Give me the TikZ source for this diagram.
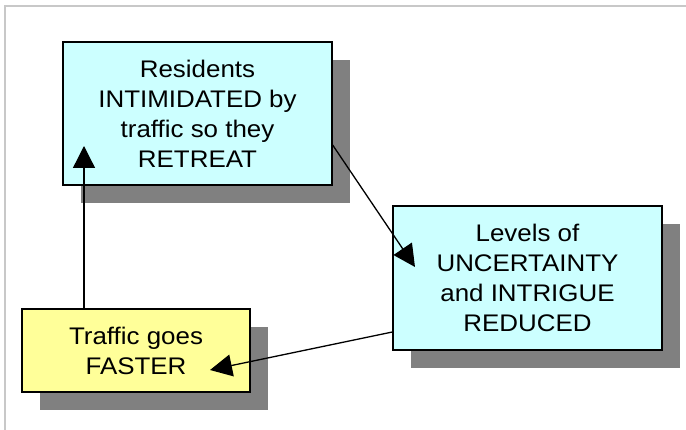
\documentclass[tikz,border=0pt]{standalone}
\usepackage{fontspec}
\setmainfont{Liberation Sans}[FakeStretch=1.08]
\usetikzlibrary{arrows.meta,shadows}
\definecolor{boxcyan}{HTML}{CCFFFF}
\definecolor{boxyellow}{HTML}{FFFF99}
\definecolor{shadowgray}{HTML}{808080}
\definecolor{framegray}{HTML}{C8C8C8}

\begin{document}
\begin{tikzpicture}[x=1pt,y=-1pt,
  box/.style={draw=black,line width=1.3pt,align=center,inner sep=0pt,
    font=\fontsize{24}{30}\selectfont,
    drop shadow={shadow xshift=18pt,shadow yshift=-18pt,fill=shadowgray,opacity=1}},
  arr/.style={-{Triangle[length=22pt,width=22pt]},line width=1.3pt,black}]
  \useasboundingbox (0,0) rectangle (686,430);
  % 枠
  \draw[framegray,line width=1.5pt] (686,6) -- (5,6) -- (5,430);

  % 箱
  \node[box,fill=boxcyan,minimum width=269pt,minimum height=143pt] (residents) at (197.5,113.5)
    {Residents\\INTIMIDATED by\\traffic so they\\RETREAT};
  \node[box,fill=boxcyan,minimum width=269pt,minimum height=144pt] (levels) at (527.5,278)
    {Levels of\\UNCERTAINTY\\and INTRIGUE\\REDUCED};
  \node[box,fill=boxyellow,minimum width=228pt,minimum height=83pt] (traffic) at (136,350.5)
    {Traffic goes\\FASTER};

  % 矢印
  \coordinate (upTip) at (84,146);
  \coordinate (downTip) at (415,267);
  \coordinate (backTip) at (210,370);
  \draw[arr] (traffic.north -| upTip) -- (upTip);
  \draw[arr] (residents.east |- 0,145) -- (downTip);
  \draw[arr] (levels.west |- 0,332) -- (backTip);
\end{tikzpicture}
\end{document}
